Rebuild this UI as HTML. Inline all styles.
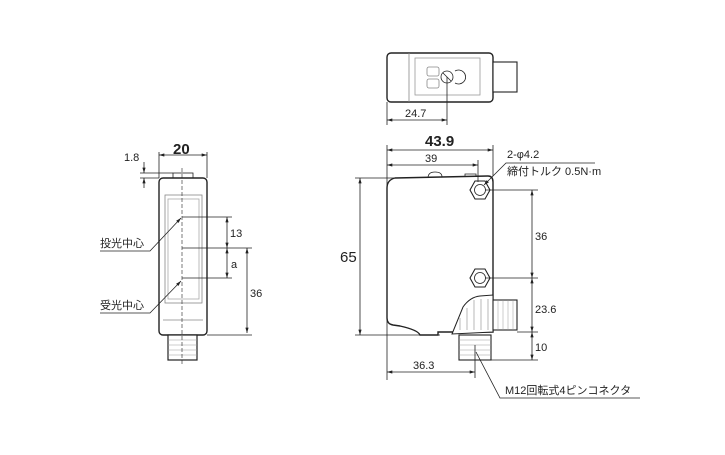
<!DOCTYPE html>
<html><head><meta charset="utf-8"><style>
html,body{margin:0;padding:0;background:#fff;}
svg text{font-family:"Liberation Sans","Noto Sans CJK JP",sans-serif;fill:#222;}
</style></head><body>
<svg width="725" height="450" viewBox="0 0 725 450" xmlns="http://www.w3.org/2000/svg">
<defs>
<marker id="a" viewBox="0 0 10 6" refX="10" refY="3" markerWidth="7" markerHeight="4" orient="auto-start-reverse"><path d="M0,0L10,3L0,6z" fill="#222"/></marker>
</defs>
<g stroke="#222" fill="none" stroke-width="0.8">
<!-- LEFT VIEW -->
<rect x="173" y="173" width="20" height="6" fill="#fff"/>
<rect x="159" y="178" width="48" height="157" rx="4" stroke-width="1.4" fill="#fff"/>
<rect x="165" y="195" width="37" height="108" stroke="#888"/>
<rect x="168" y="199" width="31" height="100" stroke="#aaa"/>
<line x1="163" y1="320" x2="203" y2="320" stroke="#888"/>
<rect x="168" y="335" width="29" height="25" stroke-width="1.2" fill="#fff"/>
<g stroke="#999" stroke-width="0.5"><line x1="168" y1="340" x2="197" y2="340"/><line x1="168" y1="345" x2="197" y2="345"/><line x1="168" y1="350" x2="197" y2="350"/><line x1="168" y1="355" x2="197" y2="355"/></g>
<line x1="182" y1="168" x2="182" y2="365" stroke-dasharray="4,2" stroke-width="0.6"/>
<line x1="159" y1="152" x2="159" y2="178"/><line x1="207" y1="152" x2="207" y2="178"/>
<line x1="159" y1="155" x2="207" y2="155" marker-start="url(#a)" marker-end="url(#a)"/>
<line x1="140" y1="173" x2="173" y2="173"/><line x1="140" y1="178" x2="159" y2="178"/>
<line x1="144" y1="162" x2="144" y2="173" marker-end="url(#a)"/><line x1="144" y1="188" x2="144" y2="178" marker-end="url(#a)"/>
<line x1="182" y1="217" x2="232" y2="217"/><line x1="182" y1="248" x2="252" y2="248"/><line x1="182" y1="278" x2="232" y2="278"/><line x1="207" y1="335" x2="252" y2="335"/>
<line x1="227" y1="217" x2="227" y2="248" marker-start="url(#a)" marker-end="url(#a)"/>
<line x1="227" y1="248" x2="227" y2="278" marker-start="url(#a)" marker-end="url(#a)"/>
<line x1="247" y1="248" x2="247" y2="333" marker-start="url(#a)" marker-end="url(#a)"/>
<polyline points="100,251 150,251 181,218" marker-end="url(#a)"/>
<polyline points="100,313 150,313 181,281" marker-end="url(#a)"/>
<!-- TOP VIEW -->
<rect x="387" y="53" width="106" height="49" rx="4" stroke-width="1.4" fill="#fff"/>
<line x1="409" y1="53" x2="409" y2="102" stroke="#888"/>
<rect x="415" y="58" width="65" height="37" stroke="#999"/>
<rect x="427" y="67" width="12" height="9" rx="2" stroke="#888"/>
<rect x="427" y="79" width="12" height="9" rx="2" stroke="#888"/>
<circle cx="447" cy="77" r="6"/><line x1="443" y1="73" x2="451" y2="81"/>
<path d="M455,71 A7,7 0 1 1 455,83" />
<rect x="493" y="62" width="24" height="30" stroke-width="1.1" fill="#fff"/>
<line x1="387" y1="102" x2="387" y2="125"/><line x1="447" y1="77" x2="447" y2="125"/>
<line x1="387" y1="120" x2="447" y2="120" marker-start="url(#a)" marker-end="url(#a)"/>
<!-- FRONT VIEW -->
<path d="M395,178 L488,176 Q493,176 493,182 L493,332 L438,332 L438,335 L420,335 Q418,330 400,326 L393,325 Q387,324 387,318 L387,188 Q387,180 395,178 Z" stroke-width="1.4" fill="#fff"/>
<path d="M428,178 Q428,172 435,172 Q442,172 442,177" /><path d="M465,177 L465,174 L476,174 L476,177"/>
<path d="M452,334 L463,307 Q470,297 480,296 L493,295 L493,332 Z" stroke-width="1" fill="#fff"/>
<g stroke="#888" stroke-width="0.6"><line x1="460" y1="330" x2="460" y2="318"/><line x1="467" y1="330" x2="467" y2="308"/><line x1="474" y1="330" x2="474" y2="300"/><line x1="481" y1="330" x2="481" y2="299"/><line x1="488" y1="330" x2="488" y2="299"/></g>
<rect x="493" y="300" width="24" height="30" stroke-width="1.1" fill="#fff"/>
<g stroke="#999" stroke-width="0.5"><line x1="498" y1="300" x2="498" y2="330"/><line x1="503" y1="300" x2="503" y2="330"/><line x1="508" y1="300" x2="508" y2="330"/><line x1="513" y1="300" x2="513" y2="330"/></g>
<rect x="459" y="335" width="32" height="25" stroke-width="1.1" fill="#fff"/>
<g stroke="#999" stroke-width="0.5"><line x1="459" y1="340" x2="491" y2="340"/><line x1="459" y1="345" x2="491" y2="345"/><line x1="459" y1="350" x2="491" y2="350"/><line x1="459" y1="355" x2="491" y2="355"/></g>
<polygon points="470,190 475,181 485,181 490,190 485,199 475,199" stroke-width="1.1" fill="#fff"/>
<circle cx="480" cy="190" r="5.5"/>
<polygon points="470,278 475,269 485,269 490,278 485,287 475,287" stroke-width="1.1" fill="#fff"/>
<circle cx="480" cy="278" r="5.5"/>
<line x1="387" y1="145" x2="387" y2="380"/><line x1="493" y1="145" x2="493" y2="176"/><line x1="478" y1="160" x2="478" y2="182"/>
<line x1="387" y1="150" x2="493" y2="150" marker-start="url(#a)" marker-end="url(#a)"/>
<line x1="387" y1="165" x2="478" y2="165" marker-start="url(#a)" marker-end="url(#a)"/>
<line x1="355" y1="178" x2="395" y2="178"/><line x1="355" y1="335" x2="440" y2="335"/>
<line x1="360" y1="178" x2="360" y2="335" marker-start="url(#a)" marker-end="url(#a)"/>
<line x1="485" y1="190" x2="538" y2="190"/><line x1="485" y1="278" x2="538" y2="278"/><line x1="517" y1="332" x2="538" y2="332"/><line x1="491" y1="360" x2="538" y2="360"/>
<line x1="532" y1="190" x2="532" y2="278" marker-start="url(#a)" marker-end="url(#a)"/>
<line x1="532" y1="278" x2="532" y2="332" marker-start="url(#a)" marker-end="url(#a)"/>
<line x1="532" y1="332" x2="532" y2="360" marker-start="url(#a)" marker-end="url(#a)"/>
<line x1="475" y1="345" x2="475" y2="378"/>
<line x1="387" y1="372" x2="475" y2="372" marker-start="url(#a)" marker-end="url(#a)"/>
<polyline points="595,163 506,163 484,185" marker-end="url(#a)"/>
<polyline points="640,398 500,398 476,352"/>
</g>
<g font-size="11">
<text x="173" y="154" font-size="15" font-weight="bold">20</text>
<text x="124" y="161">1.8</text>
<text x="230" y="237">13</text>
<text x="231" y="268">a</text>
<text x="250" y="297">36</text>
<text x="100" y="247">投光中心</text>
<text x="100" y="309">受光中心</text>
<text x="405" y="117">24.7</text>
<text x="425" y="146" font-size="15" font-weight="bold">43.9</text>
<text x="425" y="162">39</text>
<text x="340" y="262" font-size="15">65</text>
<text x="535" y="240">36</text>
<text x="535" y="313">23.6</text>
<text x="535" y="351">10</text>
<text x="413" y="369">36.3</text>
<text x="507" y="158">2-φ4.2</text>
<text x="507" y="175">締付トルク 0.5N·m</text>
<text x="505" y="394">M12回転式4ピンコネクタ</text>
</g>
</svg>
</body></html>
